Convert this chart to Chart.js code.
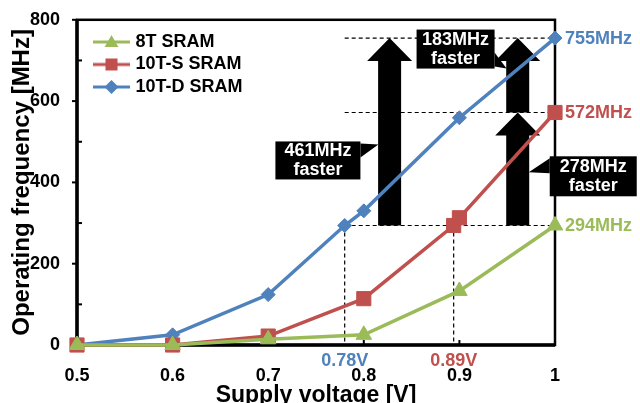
<!DOCTYPE html>
<html lang="en">
<head>
    <meta charset="utf-8">
    <title>SRAM operating frequency</title>
    <script src="https://cdn.jsdelivr.net/npm/chart.js@4.4.1/dist/chart.umd.min.js"></script>
    <style>
        html, body { margin: 0; padding: 0; background: #fff; }
        #wrap { width: 640px; height: 403px; }
    </style>
</head>
<body>
<div id="wrap">
    <canvas id="freqChart" width="640" height="403"></canvas>
</div>
<script>
    // data
    const seriesNames = ['8T SRAM', '10T-S SRAM', '10T-D SRAM'];
    const volt8T = [0.5, 0.6, 0.7, 0.8, 0.9, 1.0];
    const freq8T = [0, 0, 14, 25, 133, 294];
    const volt10TS = [0.5, 0.6, 0.7, 0.8, 0.894, 0.9, 1.0];
    const freq10TS = [0, 0, 22, 114, 294, 313, 572];
    const volt10TD = [0.5, 0.6, 0.7, 0.78, 0.8, 0.9, 1.0];
    const freq10TD = [0, 25, 124, 294, 330, 559, 755];
    const yTicks = [0, 200, 400, 600, 800];

    // annotations: where the 10T cells reach 8T's max, and the gain arrows
    const crossVolt = [0.78, 0.894];
    const crossLevel = 294;
    const arrowVolt = [0.827, 0.961, 0.961];
    const arrowFrom = [294, 572, 294];
    const arrowTo = [755, 755, 572];
    const calloutVolt = [0.752, 0.896, 1.040];
    const calloutFreq = [454, 728, 415];

    const GREEN = '#9BBB59', RED = '#C0504D', BLUE = '#4F81BD';
    const FONT = "'Liberation Sans', Arial, sans-serif";

    // callout box sizes and pointer wedges (pixels, relative to box centre)
    const calloutBox = [[85, 38], [78, 39], [87, 40]];
    const calloutPtr = [
        [[42.5, -17], [42.5, -3], [60.5, -16]],
        [[39, 3.5], [39, 17.5], [51, 19.5]],
        [[-43.5, -18], [-43.5, -3], [-64.5, -4]]
    ];

    function pts(xs, ys) {
        return xs.map((v, i) => ({x: v, y: ys[i]}));
    }

    function marker(g, style, cx, cy, r) {
        g.beginPath();
        if (style === 'triangle') {
            g.moveTo(cx, cy - r);
            g.lineTo(cx + r * 0.866, cy + r * 0.5);
            g.lineTo(cx - r * 0.866, cy + r * 0.5);
        } else if (style === 'rect') {
            g.rect(cx - r * 0.707, cy - r * 0.707, r * 1.414, r * 1.414);
        } else {
            g.moveTo(cx - r, cy);
            g.lineTo(cx, cy - r);
            g.lineTo(cx + r, cy);
            g.lineTo(cx, cy + r);
        }
        g.closePath();
        g.fill();
    }

    function legendIcon(color, style, r) {
        const c = document.createElement('canvas');
        c.width = 52;
        c.height = 22;
        const g = c.getContext('2d');
        g.strokeStyle = color;
        g.lineWidth = 3;
        g.beginPath();
        g.moveTo(15, 11);
        g.lineTo(52, 11);
        g.stroke();
        g.fillStyle = color;
        marker(g, style, 33.5, style === 'triangle' ? 12 : 11, r);
        return c;
    }

    const icons = [legendIcon(GREEN, 'triangle', 8), legendIcon(RED, 'rect', 8.5), legendIcon(BLUE, 'rectRot', 7)];

    const annot = {
        id: 'annot',
        beforeDatasetsDraw(chart) {
            const {ctx, chartArea: a, scales: {x, y}} = chart;
            ctx.save();

            // frame
            ctx.strokeStyle = '#000';
            ctx.lineWidth = 2.5;
            ctx.strokeRect(a.left, a.top, a.right - a.left, a.bottom - a.top);
            ctx.lineWidth = 3.5;
            ctx.beginPath();
            ctx.moveTo(a.left, a.top);
            ctx.lineTo(a.left, a.bottom);
            ctx.lineTo(a.right, a.bottom);
            ctx.stroke();

            // tick marks: major outside, minor inside on y; inside on x
            ctx.lineWidth = 2;
            for (let v = 100; v <= 800; v += 100) {
                const py = y.getPixelForValue(v);
                ctx.beginPath();
                if (v % 200 === 0) {
                    ctx.moveTo(a.left - 5, py);
                    ctx.lineTo(a.left, py);
                } else {
                    ctx.moveTo(a.left, py);
                    ctx.lineTo(a.left + 5, py);
                }
                ctx.stroke();
            }
            for (let v = 0.6; v < 0.95; v += 0.1) {
                const px = x.getPixelForValue(v);
                ctx.beginPath();
                ctx.moveTo(px, a.bottom);
                ctx.lineTo(px, a.bottom - 5);
                ctx.stroke();
            }

            // dashed guide lines
            ctx.lineWidth = 1.2;
            ctx.setLineDash([4, 3]);
            const levels = [crossLevel, freq10TS[freq10TS.length - 1], freq10TD[freq10TD.length - 1]];
            levels.forEach(lv => {
                ctx.beginPath();
                ctx.moveTo(x.getPixelForValue(crossVolt[0]), y.getPixelForValue(lv));
                ctx.lineTo(a.right, y.getPixelForValue(lv));
                ctx.stroke();
            });
            crossVolt.forEach(v => {
                ctx.beginPath();
                ctx.moveTo(x.getPixelForValue(v), y.getPixelForValue(crossLevel));
                ctx.lineTo(x.getPixelForValue(v), a.bottom);
                ctx.stroke();
            });
            ctx.setLineDash([]);

            // big black arrows
            ctx.fillStyle = '#000';
            arrowVolt.forEach((v, i) => {
                const px = x.getPixelForValue(v);
                const yb = y.getPixelForValue(arrowFrom[i]);
                const yt = y.getPixelForValue(arrowTo[i]);
                const sw = 11.5, hw = 22.5, hl = 23;
                ctx.beginPath();
                ctx.moveTo(px - sw, yb);
                ctx.lineTo(px - sw, yt + hl);
                ctx.lineTo(px - hw, yt + hl);
                ctx.lineTo(px, yt);
                ctx.lineTo(px + hw, yt + hl);
                ctx.lineTo(px + sw, yt + hl);
                ctx.lineTo(px + sw, yb);
                ctx.closePath();
                ctx.fill();
            });

            // callouts
            calloutVolt.forEach((v, i) => {
                const cx = x.getPixelForValue(v);
                const cy = y.getPixelForValue(calloutFreq[i]);
                const [w, h] = calloutBox[i];
                ctx.fillStyle = '#000';
                ctx.fillRect(cx - w / 2, cy - h / 2, w, h);
                const p = calloutPtr[i];
                ctx.beginPath();
                ctx.moveTo(cx + p[0][0], cy + p[0][1]);
                ctx.lineTo(cx + p[1][0], cy + p[1][1]);
                ctx.lineTo(cx + p[2][0], cy + p[2][1]);
                ctx.closePath();
                ctx.fill();
                ctx.fillStyle = '#fff';
                ctx.font = 'bold 18px ' + FONT;
                ctx.textAlign = 'center';
                ctx.textBaseline = 'middle';
                ctx.fillText((arrowTo[i] - arrowFrom[i]) + 'MHz', cx, cy - 9);
                ctx.fillText('faster', cx, cy + 10);
            });
            ctx.restore();
        },
        afterDraw(chart) {
            const {ctx, chartArea: a, scales: {x, y}} = chart;
            ctx.save();
            ctx.font = 'bold 18px ' + FONT;
            ctx.textBaseline = 'middle';

            // end values at the right
            ctx.textAlign = 'left';
            const ends = [[freq8T, GREEN], [freq10TS, RED], [freq10TD, BLUE]];
            ends.forEach(([arr, col]) => {
                const v = arr[arr.length - 1];
                ctx.fillStyle = col;
                ctx.fillText(v + 'MHz', a.right + 10, y.getPixelForValue(v) + 1);
            });

            // crossover voltages under the axis
            ctx.textAlign = 'center';
            [[crossVolt[0], BLUE], [crossVolt[1], RED]].forEach(([v, col]) => {
                ctx.fillStyle = col;
                ctx.fillText(v.toFixed(2) + 'V', x.getPixelForValue(v), a.bottom + 16);
            });
            ctx.restore();
        }
    };

    const ctx = document.getElementById('freqChart').getContext('2d');
    const lineDs = (label, data, color, style, r) => ({
        label: label,
        data: data,
        borderColor: color,
        backgroundColor: color,
        borderWidth: 3.5,
        pointStyle: style,
        pointRadius: r,
        pointBorderWidth: 1,
        pointBackgroundColor: color,
        pointBorderColor: color,
        tension: 0,
        clip: false
    });

    const freqChart = new Chart(ctx, {
        type: 'line',
        data: {
            datasets: [
                lineDs(seriesNames[0], pts(volt8T, freq8T), GREEN, 'triangle', 9),
                lineDs(seriesNames[1], pts(volt10TS, freq10TS), RED, 'rect', 10),
                lineDs(seriesNames[2], pts(volt10TD, freq10TD), BLUE, 'rectRot', 7)
            ]
        },
        options: {
            responsive: false,
            animation: false,
            devicePixelRatio: 1,
            layout: {padding: {top: 16, right: 85, left: 0, bottom: 0}},
            scales: {
                x: {
                    type: 'linear',
                    min: 0.5,
                    max: 1,
                    afterFit: s => { s.height = 58; },
                    grid: {display: false},
                    border: {display: false},
                    ticks: {
                        stepSize: 0.1,
                        padding: 12,
                        maxRotation: 0,
                        color: '#000',
                        font: {family: FONT, size: 18, weight: 'bold'},
                        callback: v => String(+v.toFixed(1))
                    },
                    title: {
                        display: true,
                        text: 'Supply voltage [V]',
                        color: '#000',
                        padding: {top: 0, bottom: -4},
                        font: {family: FONT, size: 23, weight: 'bold', lineHeight: 1}
                    }
                },
                y: {
                    min: 0,
                    max: 800,
                    afterFit: s => { s.width = 77; },
                    afterBuildTicks: s => { s.ticks = yTicks.map(v => ({value: v})); },
                    grid: {display: false},
                    border: {display: false},
                    ticks: {
                        padding: 9,
                        color: '#000',
                        font: {family: FONT, size: 18, weight: 'bold'}
                    },
                    title: {
                        display: true,
                        text: 'Operating frequency [MHz]',
                        color: '#000',
                        padding: {top: 10, bottom: 0},
                        font: {family: FONT, size: 24, weight: 'bold', lineHeight: 1}
                    }
                }
            },
            plugins: {
                tooltip: {enabled: false},
                legend: {
                    position: 'chartArea',
                    align: 'start',
                    title: {display: true, text: ' ', padding: {top: 27.5, bottom: 0}, font: {size: 1, lineHeight: 1}},
                    labels: {
                        usePointStyle: true,
                        pointStyleWidth: 45,
                        padding: 4.5,
                        color: '#000',
                        font: {family: FONT, size: 18, weight: 'bold'},
                        generateLabels: chart => {
                            const items = Chart.defaults.plugins.legend.labels.generateLabels(chart);
                            items.forEach((it, i) => { it.pointStyle = icons[i]; });
                            return items;
                        }
                    }
                }
            }
        },
        plugins: [annot]
    });
</script>
</body>
</html>
